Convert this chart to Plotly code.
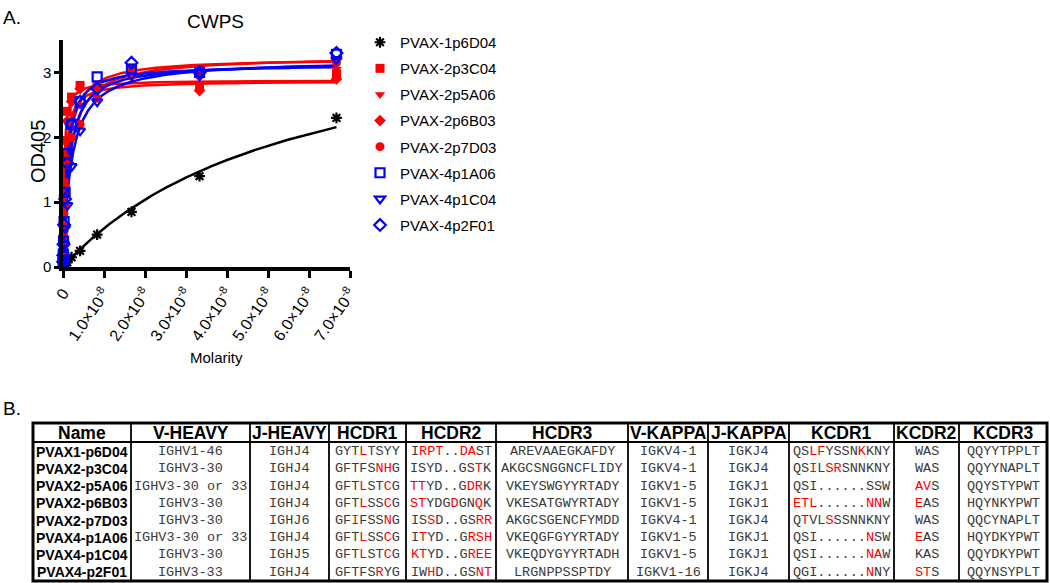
import numpy as np
import plotly.graph_objects as go

# ---------------- data: panel A ----------------
conc = [6.67e-8, 3.33e-8, 1.67e-8, 8.33e-9, 4.17e-9, 2.08e-9, 1.04e-9,
        5.2e-10, 2.6e-10, 1.3e-10, 6.5e-11, 3.3e-11]

series_names = ["PVAX-1p6D04", "PVAX-2p3C04", "PVAX-2p5A06", "PVAX-2p6B03",
                "PVAX-2p7D03", "PVAX-4p1A06", "PVAX-4p1C04", "PVAX-4p2F01"]

od_1p6D04 = [2.30, 1.40, 0.85, 0.50, 0.25, 0.15, 0.07, 0.04, 0.02, 0.01, 0.01, 0.00]
od_2p3C04 = [2.98, 2.80, 3.00, 2.80, 2.80, 2.62, 2.40, 1.95, 1.30, 0.85, 0.45, 0.20]
od_2p5A06 = [3.05, 2.95, 3.10, 2.70, 2.50, 2.35, 1.95, 1.25, 0.80, 0.45, 0.25, 0.12]
od_2p6B03 = [2.90, 2.72, 2.95, 2.75, 2.75, 2.55, 2.25, 1.70, 1.10, 0.65, 0.35, 0.15]
od_2p7D03 = [3.15, 2.95, 3.05, 2.60, 2.20, 2.00, 1.60, 0.95, 0.55, 0.30, 0.15, 0.08]
od_4p1A06 = [3.28, 3.00, 3.05, 2.93, 2.55, 2.20, 1.75, 1.15, 0.70, 0.40, 0.20, 0.10]
od_4p1C04 = [3.20, 2.95, 2.95, 2.55, 2.10, 1.55, 0.95, 0.60, 0.35, 0.20, 0.10, 0.05]
od_4p2F01 = [3.30, 3.00, 3.15, 2.75, 2.55, 2.20, 1.60, 1.05, 0.65, 0.35, 0.18, 0.08]

# one-site binding fit parameters (Bmax, Kd)
fit_bmax = [4.00, 2.88, 3.22, 2.87, 3.25, 3.12, 3.20, 3.16]
fit_kd = [5.7e-8, 2.5e-10, 1.1e-9, 5.0e-10, 1.6e-9, 9.0e-10, 2.0e-9, 1.4e-9]

x_tickvals = [0, 1e-8, 2e-8, 3e-8, 4e-8, 5e-8, 6e-8, 7e-8]
x_ticktext = ["0"] + [f"{i}.0×10<sup>-8</sup>" for i in range(1, 8)]
y_tickvals = [0, 1, 2, 3]

# ---------------- data: panel B ----------------
tbl_header = ["Name", "V-HEAVY", "J-HEAVY", "HCDR1", "HCDR2", "HCDR3",
              "V-KAPPA", "J-KAPPA", "KCDR1", "KCDR2", "KCDR3"]
tbl_name = ["PVAX1-p6D04", "PVAX2-p3C04", "PVAX2-p5A06", "PVAX2-p6B03",
            "PVAX2-p7D03", "PVAX4-p1A06", "PVAX4-p1C04", "PVAX4-p2F01"]
tbl_vheavy = ["IGHV1-46", "IGHV3-30", "IGHV3-30 or 33", "IGHV3-30",
              "IGHV3-30", "IGHV3-30 or 33", "IGHV3-30", "IGHV3-33"]
tbl_jheavy = ["IGHJ4", "IGHJ4", "IGHJ4", "IGHJ4", "IGHJ6", "IGHJ4", "IGHJ5", "IGHJ4"]
# lowercase letters = residues shown in red
tbl_hcdr1 = ["GYTlTSYY", "GFTFSnhG", "GFTlSTcG", "GFTlSScG",
             "GFiFSSnG", "GFTlSScG", "GFTlSTcG", "GFTFSrYG"]
tbl_hcdr2 = ["Irpt..daST", "ISYD..GStK", "ttYD..GdrK", "stYDGdGNqK",
             "ISsD..GSrr", "ItYD..Grsh", "ktYD..Gree", "IWhD..GSnt"]
tbl_hcdr3 = ["AREVAAEGKAFDY", "AKGCSNGGNCFLIDY", "VKEYSWGYYRTADY", "VKESATGWYRTADY",
             "AKGCSGENCFYMDD", "VKEQGFGYYRTADY", "VKEQDYGYYRTADH", "LRGNPPSSPTDY"]
tbl_vkappa = ["IGKV4-1", "IGKV4-1", "IGKV1-5", "IGKV1-5", "IGKV4-1", "IGKV1-5", "IGKV1-5", "IGKV1-16"]
tbl_jkappa = ["IGKJ4", "IGKJ4", "IGKJ1", "IGKJ1", "IGKJ4", "IGKJ1", "IGKJ1", "IGKJ4"]
tbl_kcdr1 = ["QSlfYSSNkKNY", "QSiLsrSNNKNY", "QSI......SSW", "etl......nnW",
             "QtVLsSSNNKNY", "QSI......nSW", "QSI......naW", "QGI......nNY"]
tbl_kcdr2 = ["WAS", "WAS", "avS", "eAS", "WAS", "eAS", "KAS", "stS"]
tbl_kcdr3 = ["QQYYTPPLT", "QQYYNAPLT", "QQYSTYPWT", "HQYNKYPWT",
             "QQCYNAPLT", "HQYDKYPWT", "QQYDKYPWT", "QQYNSYPLT"]

# ---------------- styling ----------------
W, H = 1050, 583
def px(x):
    return x / W
def py(y):
    return 1 - y / H

RED = "#ff0000"
BLUE = "#0000ff"
series_values = [od_1p6D04, od_2p3C04, od_2p5A06, od_2p6B03,
                 od_2p7D03, od_4p1A06, od_4p1C04, od_4p2F01]
series_colors = ["black", RED, RED, RED, RED, BLUE, BLUE, BLUE]
series_symbols = ["asterisk-open", "square", "triangle-down", "diamond",
                  "circle", "square-open", "triangle-down-open", "diamond-open"]
SANS = "Arial, Liberation Sans, sans-serif"
MONO = "Liberation Mono, Courier New, monospace"

fig = go.Figure()

xc = np.linspace(0, max(conc), 1500)
for i, name in enumerate(series_names):
    col = series_colors[i]
    yc = fit_bmax[i] * xc / (fit_kd[i] + xc)
    fig.add_trace(go.Scatter(x=xc, y=yc, mode="lines", line=dict(color=col, width=2.5),
                             showlegend=False, legendgroup=name, hoverinfo="skip"))
for i, name in enumerate(series_names):
    col = series_colors[i]
    sym = series_symbols[i]
    is_open = sym.endswith("open")
    fig.add_trace(go.Scatter(
        x=conc, y=series_values[i], mode="markers", name=name, legendgroup=name,
        cliponaxis=False,
        marker=dict(symbol=sym, size=9, color=col,
                    line=dict(color=col, width=2.2 if is_open else 0)),
    ))

fig.update_layout(
    template="none",
    width=W, height=H, margin=dict(l=0, r=0, t=0, b=0, pad=0, autoexpand=False),
    paper_bgcolor="white", plot_bgcolor="white",
    font=dict(family=SANS, color="black"),
    xaxis=dict(domain=[px(63), px(350)], range=[0, 7e-8], showgrid=False, zeroline=False,
               automargin=False,
               showline=True, linecolor="black", linewidth=3.5,
               ticks="outside", ticklen=7, tickwidth=3, tickcolor="black",
               tickvals=x_tickvals, ticktext=x_ticktext, tickangle=-55,
               tickfont=dict(size=16, family=SANS)),
    yaxis=dict(domain=[py(267), py(40)], range=[0, 3.5], showgrid=False, zeroline=False,
               automargin=False,
               showline=True, linecolor="black", linewidth=3.5,
               ticks="outside", ticklen=5, tickwidth=3, tickcolor="black",
               tickvals=y_tickvals, tickfont=dict(size=15, family=SANS)),
    legend=dict(x=px(360), y=py(26), xanchor="left", yanchor="top",
                font=dict(size=15, family=SANS), tracegroupgap=3.6,
                bgcolor="rgba(0,0,0,0)", itemclick=False),
)

def add_text(ann, text, x, y, size, family=SANS, color="black", xanchor="center", angle=0):
    ann.append(dict(text=text, x=px(x), y=py(y), xref="paper", yref="paper",
                    xanchor=xanchor, yanchor="middle", showarrow=False, textangle=angle,
                    font=dict(size=size, family=family, color=color)))

ann = []
add_text(ann, "A.", 1, 18, 19, xanchor="left")
add_text(ann, "B.", 1, 408, 19, xanchor="left")
add_text(ann, "CWPS", 215, 22, 19)
add_text(ann, "OD405", 38, 152, 20, angle=-90)
add_text(ann, "Molarity", 216, 357, 15)

# ---------------- table ----------------
col_edges = [33, 131, 250, 329, 406, 496, 628, 708, 789, 894, 959, 1047]
tbl_top, tbl_head_bot, tbl_bot = 423, 442, 581
row0, row_step = 451.7, 17.2

def mark(s):
    out = []
    for ch in s:
        if ch.islower():
            out.append(f"<span style='color:{RED}'>{ch.upper()}</span>")
        else:
            out.append(ch)
    return "".join(out)

shapes = []
shapes.append(dict(type="rect", xref="paper", yref="paper", x0=px(col_edges[0]), x1=px(col_edges[-1]),
                   y0=py(tbl_bot), y1=py(tbl_top), line=dict(color="black", width=3)))
shapes.append(dict(type="line", xref="paper", yref="paper", x0=px(col_edges[0]), x1=px(col_edges[-1]),
                   y0=py(tbl_head_bot), y1=py(tbl_head_bot), line=dict(color="black", width=2.2)))
for e in col_edges[1:-1]:
    shapes.append(dict(type="line", xref="paper", yref="paper", x0=px(e), x1=px(e),
                       y0=py(tbl_bot), y1=py(tbl_top), line=dict(color="black", width=1.8)))

centers = [(col_edges[i] + col_edges[i + 1]) / 2 for i in range(len(col_edges) - 1)]
for j, h in enumerate(tbl_header):
    add_text(ann, f"<b>{h}</b>", centers[j], (tbl_top + tbl_head_bot) / 2 + 0.5, 17.5)

columns = [tbl_name, tbl_vheavy, tbl_jheavy, tbl_hcdr1, tbl_hcdr2, tbl_hcdr3,
           tbl_vkappa, tbl_jkappa, tbl_kcdr1, tbl_kcdr2, tbl_kcdr3]
marked_cols = {3, 4, 8, 9}
for j, colvals in enumerate(columns):
    for r, v in enumerate(colvals):
        yv = row0 + r * row_step
        if j == 0:
            add_text(ann, f"<b>{v}</b>", centers[j], yv, 14)
        else:
            txt = mark(v) if j in marked_cols else v
            add_text(ann, txt, centers[j], yv, 13.5, family=MONO, color="#3a3a3a")

fig.update_layout(annotations=ann, shapes=shapes)
fig.write_html("out.html", config={"displayModeBar": False},
               post_script="document.body.style.margin='0px';")
